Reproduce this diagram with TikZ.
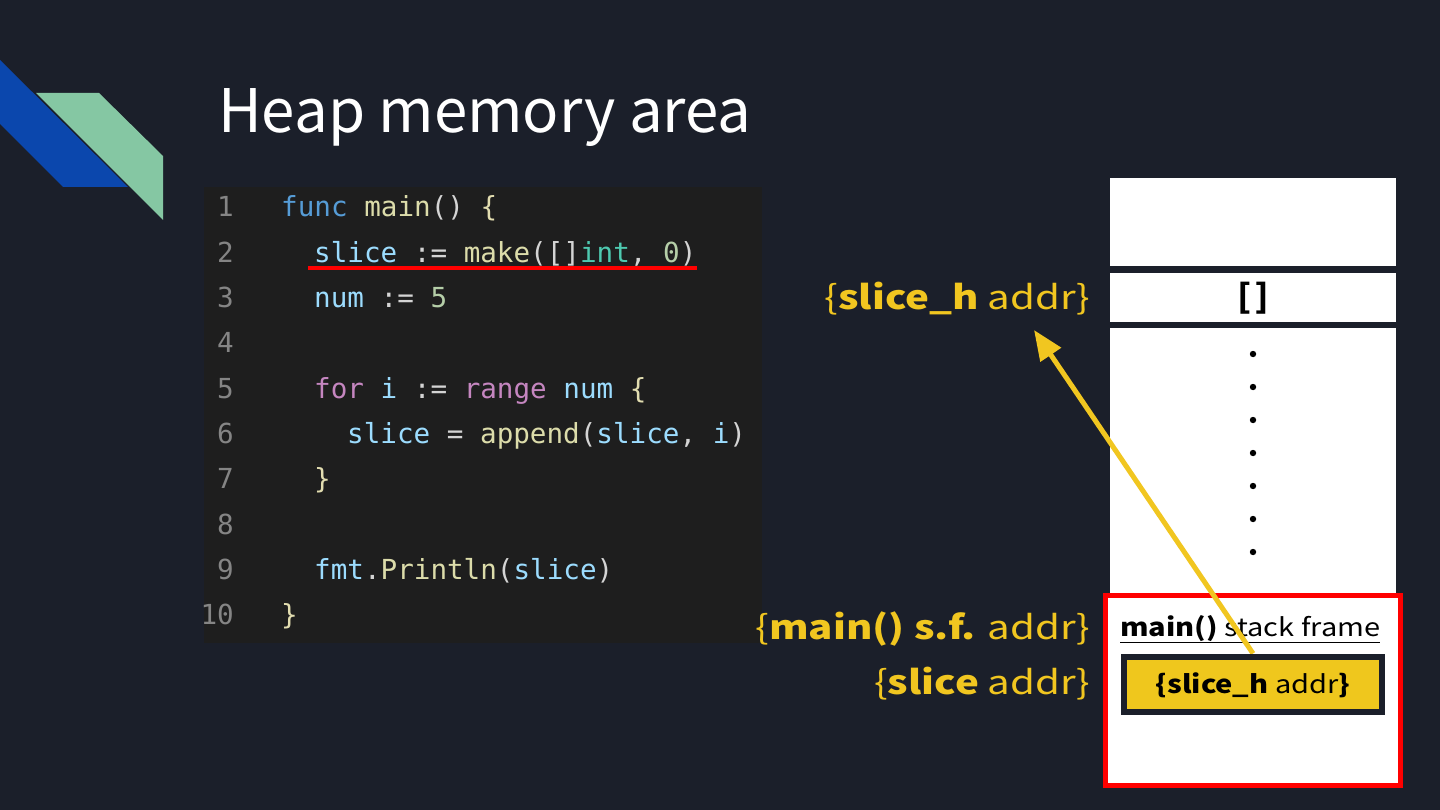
\documentclass[tikz,border=0pt]{standalone}
\usepackage{fontspec}
\setmainfont{Noto Sans CJK JP}
\setmonofont{DejaVu Sans Mono}
\newfontfamily\addrfont[FakeStretch=1.22]{Noto Sans CJK JP}
\newfontfamily\framefont[FakeStretch=1.16]{Noto Sans CJK JP}
\usetikzlibrary{arrows.meta}

\definecolor{slidebg}{HTML}{1B1F2A}
\definecolor{codebg}{HTML}{1E1E1E}
\definecolor{logoblue}{HTML}{0B47AD}
\definecolor{logogreen}{HTML}{85C7A3}
\definecolor{addryellow}{HTML}{F1C620}
\definecolor{boxyellow}{HTML}{EFC71D}
\definecolor{cKwC}{HTML}{569CD6}
\definecolor{cFnC}{HTML}{DCDCAA}
\definecolor{cVarC}{HTML}{9CDCFE}
\definecolor{cTypeC}{HTML}{4EC9B0}
\definecolor{cNumC}{HTML}{B5CEA8}
\definecolor{cCtlC}{HTML}{C586C0}
\definecolor{cPunctC}{HTML}{D4D4D4}
\definecolor{cBraceC}{HTML}{E2DDB0}
\definecolor{cLineC}{HTML}{858585}

\newcommand\cKw[1]{\textcolor{cKwC}{#1}}
\newcommand\cFn[1]{\textcolor{cFnC}{#1}}
\newcommand\cVar[1]{\textcolor{cVarC}{#1}}
\newcommand\cType[1]{\textcolor{cTypeC}{#1}}
\newcommand\cNum[1]{\textcolor{cNumC}{#1}}
\newcommand\cCtl[1]{\textcolor{cCtlC}{#1}}
\newcommand\cBr[1]{\textcolor{cBraceC}{#1}}

\tikzset{
  codeline/.style={anchor=base west,inner sep=0pt,text=cPunctC,
    font=\ttfamily\fontsize{27.6}{30}\selectfont},
  lineno/.style={anchor=base east,inner sep=0pt,text=cLineC,
    font=\ttfamily\fontsize{27.6}{30}\selectfont},
  addrlabel/.style={anchor=base east,inner sep=0pt,text=addryellow,
    font=\addrfont\fontsize{33}{36}\selectfont},
  cell/.style={fill=white},
  hbox/.style={draw=slidebg,line width=6pt,fill=boxyellow,minimum width=258pt,
    minimum height=55pt,font=\framefont\fontsize{25}{28}\selectfont},
  ptr/.style={draw=addryellow,line width=5pt,-{Triangle[length=30pt,width=24pt]}},
}

\begin{document}
\begin{tikzpicture}[x=1pt,y=-1pt]
  \useasboundingbox (0,0) rectangle (1440,810);
  \fill[slidebg] (0,0) rectangle (1440,810);

  % Logo
  \fill[logoblue] (0,60) -- (128,187) -- (63,187) -- (0,124) -- cycle;
  \fill[logogreen] (36,93) -- (99,93) -- (163,156) -- (163,220) -- cycle;

  % Title
  \node[anchor=base west,inner sep=0pt,text=white,font=\fontsize{60}{66}\selectfont] (title) at (218,133) {Heap memory area};

  % Code
  \fill[codebg] (204,187) rectangle (762,643);
  \foreach \n in {1,...,10}
    \node[lineno] (n\n) at (234,{217+45.3*(\n-1)}) {\n};
  \node[codeline] (l1) at (281,217) {\cKw{func} \cFn{main}() \cBr{\{}};
  \node[codeline] (l2) at (314,262.3) {\cVar{slice} := \cFn{make}([]\cType{int}, \cNum{0})};
  \node[codeline] (l3) at (314,307.6) {\cVar{num} := \cNum{5}};
  \node[codeline] (l5) at (314,398.2) {\cCtl{for} \cVar{i} := \cCtl{range} \cVar{num} \cBr{\{}};
  \node[codeline] (l6) at (347,443.5) {\cVar{slice} = \cFn{append}(\cVar{slice}, \cVar{i})};
  \node[codeline] (l7) at (314,488.8) {\cBr{\}}};
  \node[codeline] (l9) at (314,579.4) {\cVar{fmt}.\cFn{Println}(\cVar{slice})};
  \node[codeline] (l10) at (281,624.7) {\cBr{\}}};
  \draw[red,line width=4pt] ([xshift=-6pt,yshift=-2pt]l2.south west) -- ([yshift=-2pt]l2.south east);

  % Memory column
  \fill[cell] (1110,178) rectangle (1396,266);
  \fill[cell] (1110,273) rectangle (1396,322);
  \fill[cell] (1110,328) rectangle (1396,596);
  \node[inner sep=0pt,font=\ttfamily\bfseries\fontsize{36}{40}\selectfont] (hslot) at (1253,298) {[\kern-4pt]};
  \foreach \y in {354,387,...,552}
    \fill (1253,\y) circle (3.2);

  % main() stack frame
  \draw[red,fill=white,line width=5pt] (1105,595) rectangle (1400,785);
  \node[anchor=base west,inner sep=0pt,font=\framefont\fontsize{25}{28}\selectfont] (frame) at (1120,636)
    {\underline{\textbf{main()} stack frame}};
  \coordinate (tip) at (1034,330);
  \node[hbox] (hbox) at (1253,684) {\textbf{\{slice\_h} addr\textbf{\}}};
  \draw[ptr] (hbox.north) -- (tip);
  \node[hbox,text depth=2pt] at (hbox) {\textbf{\{slice\_h} addr\textbf{\}}};

  % Address labels
  \node[addrlabel] (lblh) at (1090,309) {\{\textbf{slice\_h} addr\}};
  \node[addrlabel] (lblmain) at (1090,639) {\{\textbf{main() s.f.} addr\}};
  \node[addrlabel] (lblslice) at (1090,694) {\{\textbf{slice} addr\}};
\end{tikzpicture}
\end{document}
